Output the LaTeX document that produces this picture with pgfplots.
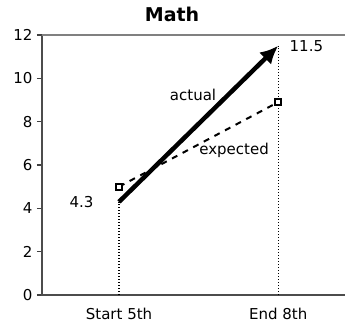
\documentclass[border=0pt]{standalone}
\usepackage{fontspec}
\setmainfont{DejaVu Sans}
\usepackage{pgfplots}
\pgfplotsset{compat=1.18}
\usetikzlibrary{arrows.meta}
\begin{document}
\begin{tikzpicture}
\begin{axis}[scale only axis, width=303pt, height=260pt,
  xmin=-0.484, xmax=1.42, ymin=0, ymax=12,
  axis line style={draw=none},
  xtick={0,1}, xticklabels={Start 5th, End 8th},
  ytick={0,2,...,12},
  xtick style={draw=none},
  ytick pos=left,
  tick align=outside,
  major tick length=5pt,
  ytick style={draw=black!75, line width=1.2pt},
  ticklabel style={font=\fontsize{15}{17}\selectfont},
  /pgf/number format/assume math mode=true,
  xticklabel style={yshift=-5pt},
  yticklabel style={xshift=-1pt},
  clip=false]
  \coordinate (bl) at (rel axis cs:0,0);
  \coordinate (tr) at (rel axis cs:1,1);
  \draw[black!70, line width=2pt] (rel axis cs:0,1) -- (rel axis cs:0,0) -- (rel axis cs:1,0);
  \draw[black!50, line width=2pt] (rel axis cs:0,1) -- (rel axis cs:1,1);
  \addplot[black, line width=1.3pt, dash pattern=on 1.3pt off 1.7pt] coordinates {(0,0) (0,4.3)};
  \addplot[black, line width=1.3pt, dash pattern=on 1.3pt off 1.7pt] coordinates {(1,0) (1,11.5)};
  \addplot[black, line width=2pt, dash pattern=on 6pt off 6pt, mark=square*,
    mark options={solid, fill=white, draw=black, line width=1.8pt}, mark size=3pt]
    coordinates {(0,5.0) (1,8.9)};
  \addplot[black, line width=4.5pt, -{Latex[length=18pt,width=17pt]}]
    coordinates {(0,4.3) (1,11.5)};
  \node[anchor=east, xshift=-22pt, font=\fontsize{15}{17}\selectfont] at (axis cs:0,4.3) {4.3};
  \node[anchor=west, xshift=8pt, font=\fontsize{15}{17}\selectfont] at (axis cs:1,11.5) {11.5};
  \node[font=\fontsize{15}{17}\selectfont] at (axis cs:0.465,9.23) {actual};
  \node[font=\fontsize{15}{17}\selectfont] at (axis cs:0.723,6.69) {expected};
  \node[font=\fontsize{19}{22}\selectfont\bfseries] at (axis cs:0.333,12.95) {Math};
\end{axis}
\pgfresetboundingbox
\path ([shift={(-42pt,-34pt)}]bl) rectangle ([yshift=35pt]tr);
\end{tikzpicture}
\end{document}
